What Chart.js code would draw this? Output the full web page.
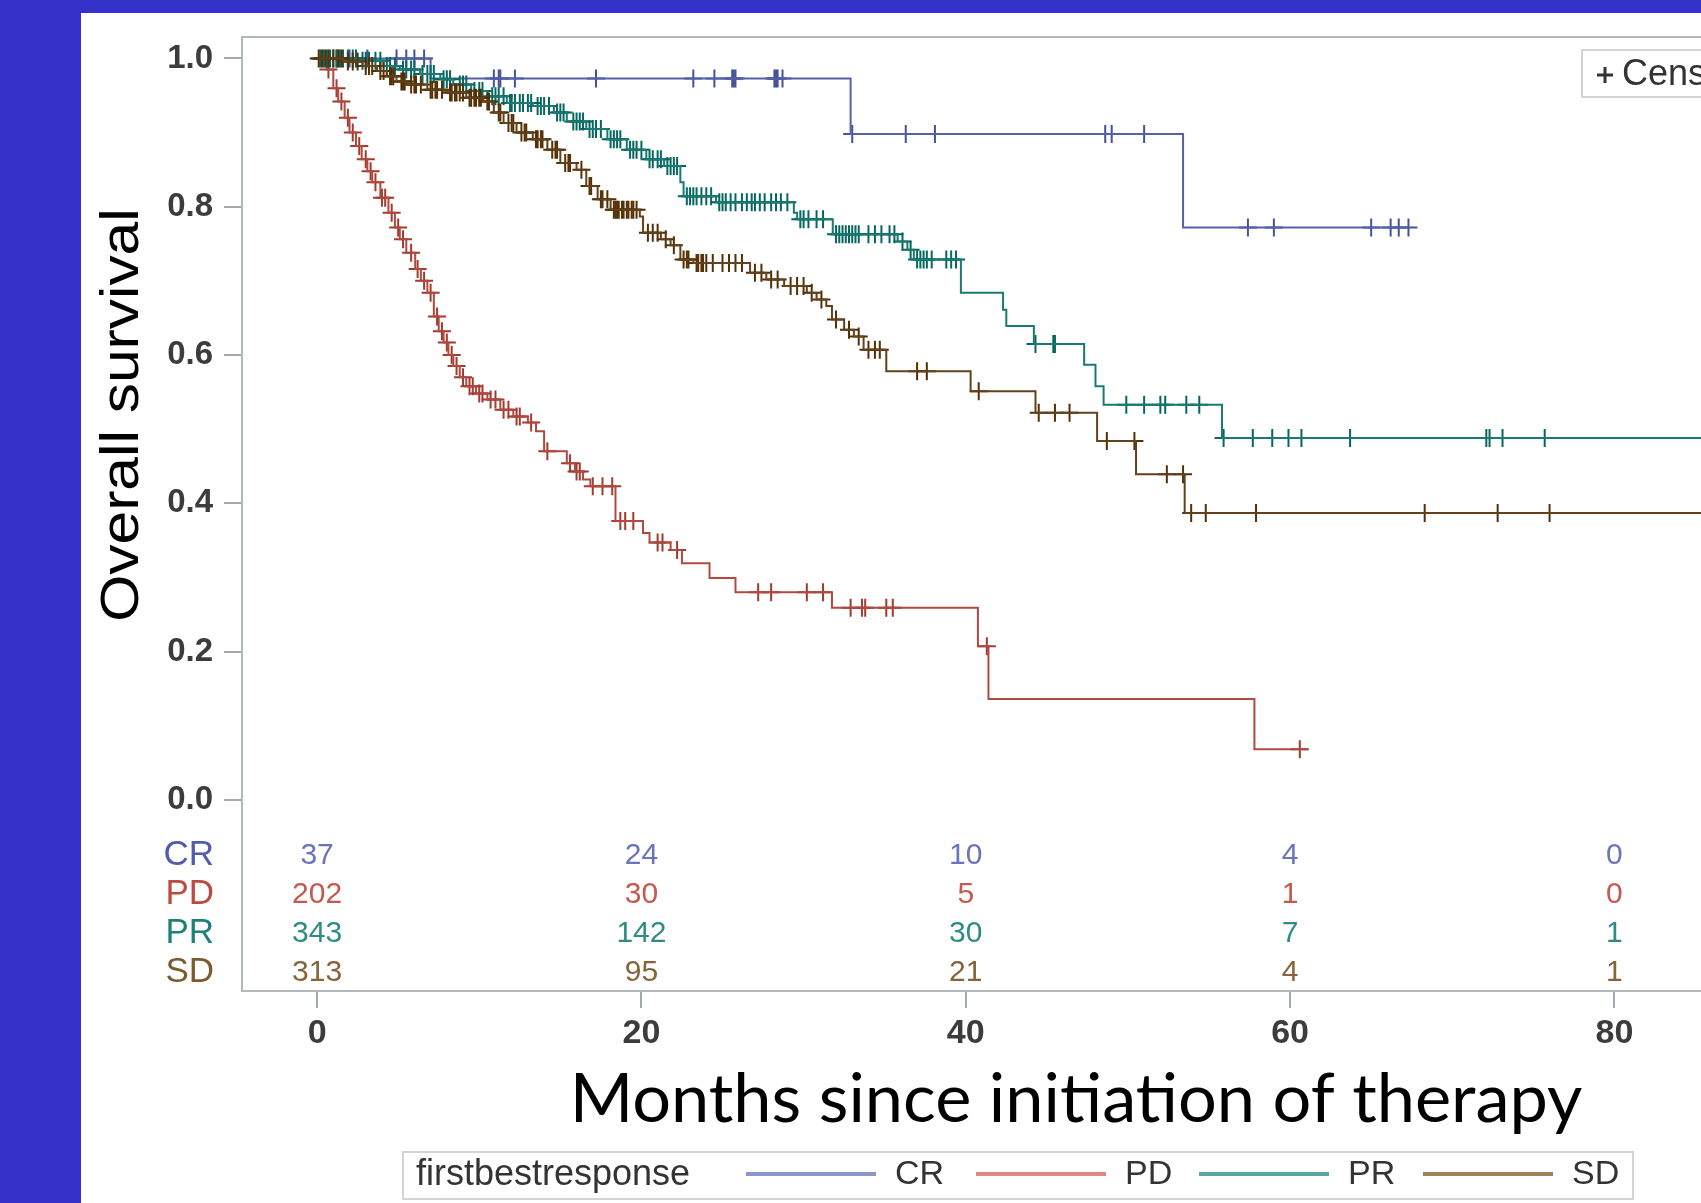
<!DOCTYPE html>
<html lang="en">
<head>
<meta charset="UTF-8">
<title>Overall survival by first best response</title>
<style>
  body { margin: 0; background: #3431c8; overflow: hidden; }
  #panel { position: absolute; left: 81px; top: 13px; width: 1620px; height: 1190px; background: #fff; overflow: hidden; }
</style>
</head>
<body>
<div id="panel"><canvas id="kmChart" width="1680" height="1190"></canvas></div>

<script src="https://cdn.jsdelivr.net/npm/chart.js"></script>
<script>
// groups and axis ticks
const groups = ['CR', 'PD', 'PR', 'SD'];
const xTicks = [0, 20, 40, 60, 80];
const yTicks = [0, 0.2, 0.4, 0.6, 0.8, 1.0];
const xTitle = 'Months since initiation of therapy';
const yTitle = 'Overall survival';
const legendTitle = 'firstbestresponse';

// number at risk
const riskTimes = [0, 20, 40, 60, 80];
const riskCR = [37, 24, 10, 4, 0];
const riskPD = [202, 30, 5, 1, 0];
const riskPR = [343, 142, 30, 7, 1];
const riskSD = [313, 95, 21, 4, 1];

// Kaplan-Meier steps: time of each drop and survival after it
const crTime = [0, 7.0, 32.9, 53.4, 67.3];
const crSurv = [1.0, 0.973, 0.898, 0.772, 0.772];
const crCens = [1.2, 2.0, 3.1, 4.9, 5.5, 6.0, 6.6, 10.9, 11.2, 11.3, 12.2, 17.2, 23.2, 24.5, 25.6, 25.7, 25.8,
  28.2, 28.3, 28.4, 28.7, 33.0, 36.3, 38.1, 48.6, 49.0, 51.0, 57.4, 59.0, 65.0, 66.2, 66.7, 67.3];

const pdTime = [0, 0.6, 1.0, 1.3, 1.7, 2.0, 2.4, 2.75, 3.1, 3.4, 3.9, 4.4, 4.8, 5.1, 5.5, 6.05, 6.4, 6.8, 7.2, 7.5,
  7.8, 8.1, 8.4, 8.8, 9.2, 9.8, 10.5, 11.3, 12.1, 13.0, 13.5, 14.0, 15.4, 15.9, 16.4, 16.85, 18.4, 20.1, 20.5, 21.8,
  22.5, 24.2, 25.8, 31.75, 40.75, 41.4, 57.8, 61.1];
const pdSurv = [1.0, 0.985, 0.96, 0.942, 0.92, 0.90, 0.882, 0.864, 0.848, 0.833, 0.812, 0.792, 0.772, 0.756, 0.738, 0.716, 0.70, 0.684, 0.652, 0.632,
  0.617, 0.60, 0.585, 0.57, 0.558, 0.548, 0.54, 0.526, 0.517, 0.509, 0.497, 0.47, 0.454, 0.443, 0.432, 0.423, 0.376, 0.36, 0.347, 0.337,
  0.319, 0.299, 0.28, 0.259, 0.207, 0.136, 0.068, 0.068];
const pdCens = [0.7, 1.2, 1.5, 1.9, 2.2, 2.6, 3.0, 3.3, 3.6, 4.0, 4.2, 4.6, 5.0, 5.3, 5.8, 6.2, 6.6, 7.0, 7.4, 7.7,
  8.0, 8.3, 8.6, 9.0, 9.4, 9.6, 10.0, 10.2, 10.7, 11.0, 11.5, 11.8, 12.3, 12.5, 13.2, 14.2, 15.6, 16.0, 16.2, 17.0,
  17.6, 18.2, 18.7, 19.0, 19.5, 21.0, 21.3, 22.2, 27.2, 28.0, 30.2, 31.2, 32.9, 33.6, 33.8, 35.1, 35.5, 41.3, 60.6];

const prTime = [0, 2.5, 4.1, 5.1, 6.35, 7.6, 8.4, 9.5, 10.5, 11.7, 13.3, 14.6, 15.4, 16.6, 17.9, 19.1, 20.3, 21.4, 22.4, 22.6,
  24.6, 29.4, 29.6, 31.8, 35.8, 36.4, 36.8, 39.7, 42.3, 42.5, 44.2, 47.3, 48.0, 48.5, 55.8, 86];
const prSurv = [1.0, 0.997, 0.99, 0.985, 0.979, 0.972, 0.965, 0.956, 0.949, 0.94, 0.936, 0.927, 0.915, 0.905, 0.891, 0.877, 0.864, 0.855, 0.833, 0.814,
  0.806, 0.792, 0.783, 0.763, 0.753, 0.742, 0.729, 0.684, 0.661, 0.639, 0.615, 0.587, 0.558, 0.533, 0.488, 0.488];
const prCens = [0.2, 0.4, 0.6, 0.8, 1.0, 1.2, 1.4, 1.6, 1.9, 2.2, 2.4, 2.8, 3.0, 3.2, 3.6, 3.9,
  4.3, 4.5, 4.8, 5.3, 5.5, 5.8, 6.0, 6.5, 6.8, 7.0, 7.2, 7.8, 8.0, 8.2, 8.8, 9.0, 9.2, 9.7, 10.0, 10.2,
  10.8, 11.0, 11.2, 11.5, 11.9, 12.0, 12.2, 12.5, 12.7, 13.0, 13.2, 13.6, 13.8, 14.0, 14.3, 14.8, 15.0, 15.2, 15.8, 16.0,
  16.2, 16.4, 16.8, 17.0, 17.2, 17.5, 18.1, 18.3, 18.5, 18.7, 19.3, 19.5, 19.7, 20.0,
  20.5, 20.7, 21.0, 21.2, 21.6, 21.8, 22.0, 22.2, 22.8, 23.0, 23.2, 23.4, 23.7, 24.0, 24.3, 24.8, 25.0, 25.2, 25.5, 25.8,
  26.2, 26.5, 26.8, 27.0, 27.3, 27.6, 28.0, 28.3, 28.6, 29.0, 29.8,
  30.0, 30.3, 30.8, 31.2, 32.0, 32.2, 32.4, 32.6, 32.8, 33.0, 33.2, 33.4, 34.0, 34.4, 34.8, 35.3, 35.6, 36.1, 36.6, 37.0,
  37.2, 37.4, 37.6, 37.9, 38.8, 39.1, 39.4,
  44.3, 45.4, 45.5, 49.9, 51.0, 52.0, 52.3, 53.6, 54.4, 55.9, 57.7, 58.9, 59.9, 60.7, 63.7, 72.1, 72.3, 73.1, 75.7];

const sdTime = [0, 1.6, 2.8, 3.7, 4.3, 4.9, 5.5, 6.8, 8.0, 9.2, 10.25, 10.9, 11.5, 12.3, 13.3, 14.2, 15.0, 16.0, 16.6, 17.3,
  18.1, 19.9, 20.1, 21.2, 21.8, 22.4, 23.2, 26.7, 27.7, 28.8, 30.2, 30.8, 31.4, 31.75, 32.5, 33.1, 33.7, 35.1, 40.3, 44.3,
  48.1, 50.5, 53.5, 86];
const sdSurv = [1.0, 0.996, 0.99, 0.983, 0.976, 0.969, 0.965, 0.958, 0.954, 0.947, 0.942, 0.927, 0.913, 0.90, 0.891, 0.877, 0.859, 0.85, 0.828, 0.81,
  0.796, 0.787, 0.765, 0.756, 0.748, 0.729, 0.724, 0.711, 0.702, 0.693, 0.684, 0.675, 0.666, 0.648, 0.634, 0.625, 0.607, 0.578, 0.551, 0.522,
  0.484, 0.439, 0.387, 0.387];
const sdCens = [0.1, 0.3, 0.5, 0.7, 1.0, 1.3, 1.5, 1.9, 2.2, 2.5, 3.0, 3.2, 3.4, 3.9, 4.1,
  4.5, 4.6, 4.7, 5.2, 5.3, 5.4, 5.8, 6.0, 6.1, 6.4, 7.0, 7.1, 7.3, 7.4, 7.7, 8.2, 8.3, 8.5, 8.6, 8.8, 9.0, 9.4, 9.5, 9.7,
  9.8, 10.0, 10.1,
  10.5, 10.6, 11.2, 11.3, 11.8, 12.0, 12.1, 12.6, 12.8, 12.9, 13.5, 13.6, 13.8, 13.9, 14.5, 14.7, 14.8, 15.3, 15.5, 15.6,
  16.3, 16.8, 16.9, 17.5, 17.6, 17.9, 18.3, 18.4, 18.5, 18.6, 18.8, 18.9, 19.1, 19.2, 19.4, 19.5, 19.7,
  20.4, 20.7, 21.0, 21.5, 22.0, 22.6, 22.8, 22.9, 23.4, 23.5, 23.7, 23.8, 24.0, 24.4, 25.0, 25.4, 25.8, 26.2, 27.0, 27.4,
  28.0, 28.4, 29.2, 29.6,
  30.0, 30.5, 31.1, 32.0, 32.8, 33.4, 34.0, 34.4, 34.7, 37.0, 37.6,
  40.8, 44.5, 45.5, 46.4, 48.7, 50.4, 52.4, 53.4, 53.9, 54.8, 57.9, 68.3, 72.8, 76.0];

const lineColors = ['#5560a8', '#b04a40', '#1a7a72', '#62421c'];
const markColors = ['#44529a', '#a23a2e', '#05675f', '#543005'];
const riskColors = ['#6a74bb', '#c25a50', '#2f8c82', '#86643a'];
const labelColors = ['#4f5dab', '#bb4a40', '#1f8077', '#7a5a2e'];
const legendColors = ['#8c95cc', '#d98a82', '#58a89e', '#a1825e'];

const font = '"Liberation Sans", Arial, sans-serif';

function steps(t, s) {
  return t.map((v, i) => ({ x: v, y: s[i] }));
}

// survival value of the curve at time c
function survAt(t, s, c) {
  let v = s[0];
  for (let i = 0; i < t.length; i++) {
    if (t[i] <= c) v = s[i];
  }
  return v;
}

function marks(t, s, cens) {
  return cens.map(c => ({ x: c, y: survAt(t, s, c) }));
}

const curves = [
  [crTime, crSurv, crCens],
  [pdTime, pdSurv, pdCens],
  [prTime, prSurv, prCens],
  [sdTime, sdSurv, sdCens]
];
const atRisk = [riskCR, riskPD, riskPR, riskSD];

// SD first so it is drawn on top, like the original
let datasets = [];
for (let i = groups.length - 1; i >= 0; i--) {
  const [t, s, c] = curves[i];
  datasets.push({
    type: 'line',
    label: groups[i],
    data: steps(t, s),
    stepped: true,
    borderColor: lineColors[i],
    borderWidth: 2,
    pointRadius: 0,
    fill: false
  });
  datasets.push({
    type: 'scatter',
    label: groups[i] + ' censored',
    data: marks(t, s, c),
    pointStyle: 'cross',
    pointRadius: 9,
    pointBorderWidth: 2,
    borderColor: markColors[i],
    backgroundColor: markColors[i]
  });
}

const kmExtras = {
  id: 'kmExtras',
  afterDraw(chart) {
    const { ctx, chartArea: a } = chart;
    const x = chart.scales.x;
    ctx.save();

    // plot frame
    ctx.strokeStyle = '#b3b8bd';
    ctx.lineWidth = 2;
    ctx.strokeRect(a.left, a.top, a.right - a.left, a.bottom - a.top);

    // number at risk table inside the frame
    ctx.textBaseline = 'middle';
    groups.forEach((g, i) => {
      const rowY = a.bottom - 136 + i * 39;
      ctx.font = '35px ' + font;
      ctx.textAlign = 'right';
      ctx.fillStyle = labelColors[i];
      ctx.fillText(g, 133, rowY);
      ctx.font = '30px ' + font;
      ctx.textAlign = 'center';
      ctx.fillStyle = riskColors[i];
      riskTimes.forEach((t, j) => ctx.fillText(String(atRisk[i][j]), x.getPixelForValue(t), rowY + 1));
    });

    // y title
    ctx.save();
    ctx.translate(57, 402);
    ctx.rotate(-Math.PI / 2);
    ctx.scale(1.12, 1);
    ctx.font = '54px ' + font;
    ctx.fillStyle = '#000';
    ctx.textAlign = 'center';
    ctx.textBaseline = 'alphabetic';
    ctx.fillText(yTitle, 0, 0);
    ctx.restore();

    // x title, sized to the width it has in the slide
    ctx.font = '70px Lato, sans-serif';
    const w = ctx.measureText(xTitle).width;
    ctx.font = (70 * 1013 / w).toFixed(1) + 'px Lato, sans-serif';
    ctx.fillStyle = '#000';
    ctx.textAlign = 'center';
    ctx.textBaseline = 'alphabetic';
    ctx.fillText(xTitle, 995, 1109);

    // censored legend (top right, cut by the slide edge)
    ctx.strokeStyle = '#d4d4d4';
    ctx.lineWidth = 2;
    ctx.strokeRect(1501, 37, 200, 47);
    ctx.strokeStyle = '#333';
    ctx.lineWidth = 3;
    ctx.beginPath();
    ctx.moveTo(1516, 62); ctx.lineTo(1532, 62);
    ctx.moveTo(1524, 54); ctx.lineTo(1524, 70);
    ctx.stroke();
    ctx.font = '36px ' + font;
    ctx.fillStyle = '#333';
    ctx.textAlign = 'left';
    ctx.textBaseline = 'middle';
    ctx.fillText('Censored', 1541, 62);

    // group legend at the bottom
    ctx.strokeStyle = '#d4d4d4';
    ctx.lineWidth = 2;
    ctx.strokeRect(322, 1139, 1230, 47);
    ctx.font = '36px ' + font;
    ctx.fillStyle = '#333';
    ctx.fillText(legendTitle, 335, 1162);
    ctx.font = '34px ' + font;
    const slots = [665, 895, 1118, 1342];
    groups.forEach((g, i) => {
      ctx.strokeStyle = legendColors[i];
      ctx.lineWidth = 4;
      ctx.beginPath();
      ctx.moveTo(slots[i], 1161);
      ctx.lineTo(slots[i] + 130, 1161);
      ctx.stroke();
      ctx.fillStyle = '#333';
      ctx.fillText(g, slots[i] + 149, 1162);
    });

    ctx.restore();
  }
};

new Chart(document.getElementById('kmChart'), {
  data: { datasets: datasets },
  options: {
    responsive: false,
    animation: false,
    layout: { padding: { top: 24, right: 0, left: 0, bottom: 0 } },
    plugins: { legend: { display: false }, tooltip: { enabled: false } },
    scales: {
      x: {
        type: 'linear',
        min: -4.63,
        max: 88.36,
        afterBuildTicks: axis => { axis.ticks = xTicks.map(v => ({ value: v })); },
        afterFit: axis => {
          axis.height = 212;
          axis.paddingLeft = 0;
          axis.paddingRight = 0;
        },
        grid: { drawOnChartArea: false, tickLength: 17, color: '#a4a9ae', lineWidth: 2 },
        border: { display: false },
        ticks: {
          font: { family: font, size: 34, weight: 'bold' },
          color: '#3c3c3c',
          padding: 5,
          maxRotation: 0,
          callback: v => String(v)
        }
      },
      y: {
        type: 'linear',
        min: -0.258,
        max: 1.029,
        afterBuildTicks: axis => { axis.ticks = yTicks.map(v => ({ value: v })); },
        afterFit: axis => {
          axis.width = 161;
          axis.paddingTop = 0;
          axis.paddingBottom = 0;
        },
        grid: { drawOnChartArea: false, tickLength: 18, color: '#a4a9ae', lineWidth: 2 },
        border: { display: false },
        ticks: {
          font: { family: font, size: 33, weight: 'bold' },
          color: '#3c3c3c',
          padding: 11,
          callback: v => v.toFixed(1)
        }
      }
    }
  },
  plugins: [kmExtras]
});
</script>
</body>
</html>
